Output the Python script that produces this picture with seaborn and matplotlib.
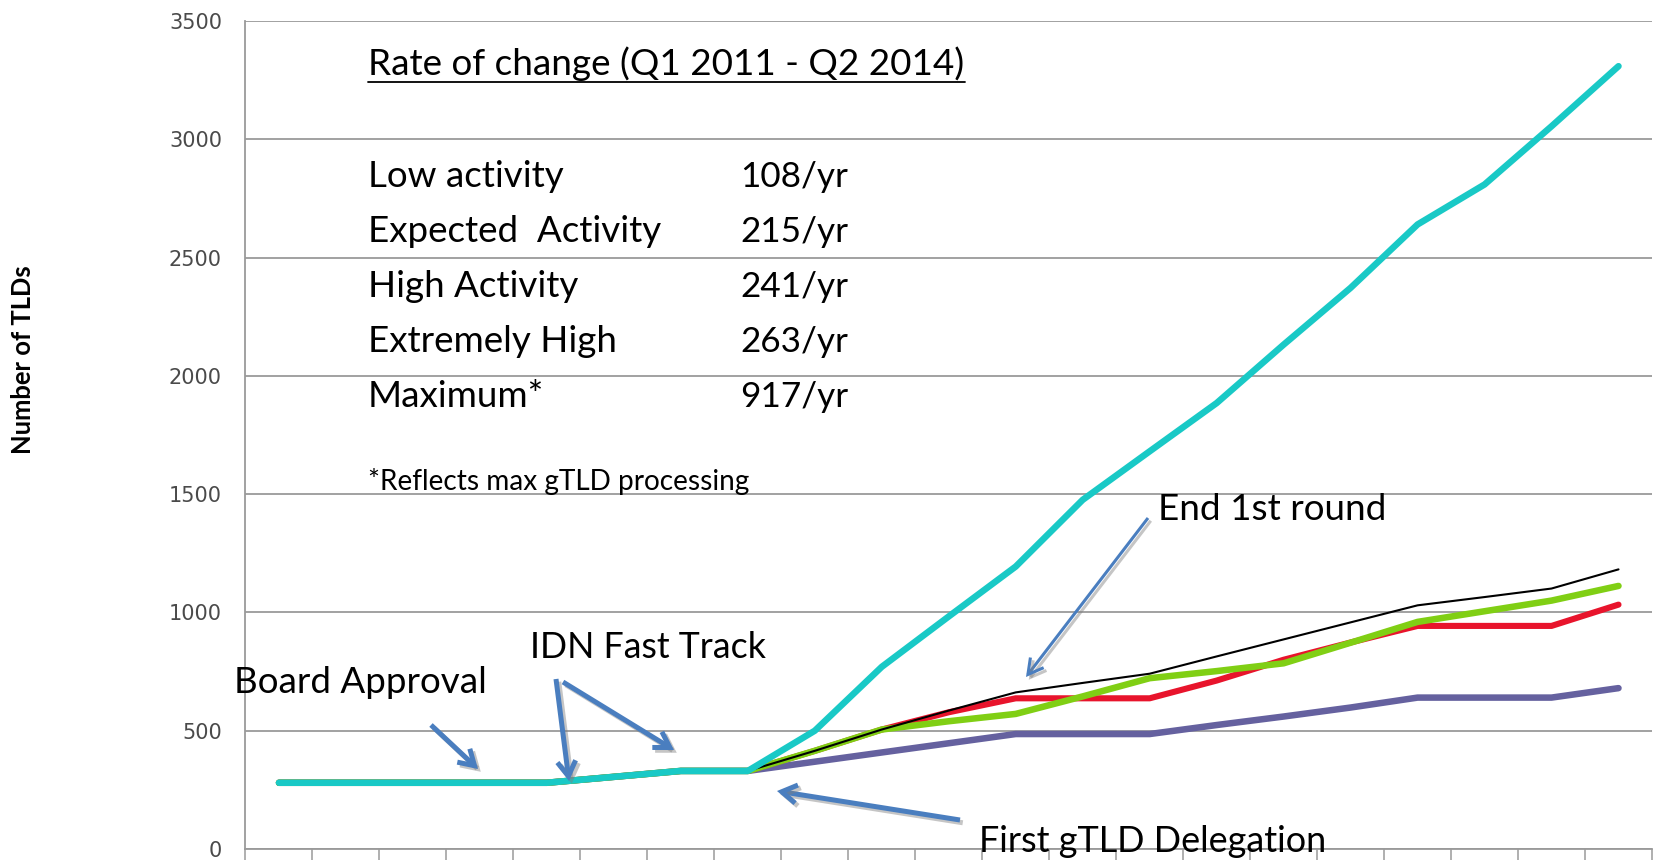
import numpy as np
import pandas as pd
import matplotlib
matplotlib.use("Agg")
import matplotlib.pyplot as plt
import matplotlib.patheffects as pe
from matplotlib.lines import Line2D
import seaborn as sns

# ---------------- data ----------------
quarters = ["Q2 2009", "Q3 2009", "Q4 2009", "Q1 2010", "Q2 2010", "Q3 2010", "Q4 2010",
            "Q1 2011", "Q2 2011", "Q3 2011", "Q4 2011", "Q1 2012", "Q2 2012", "Q3 2012",
            "Q4 2012", "Q1 2013", "Q2 2013", "Q3 2013", "Q4 2013", "Q1 2014", "Q2 2014"]

low_activity = [280, 280, 280, 280, 280, 305, 330, 330, 369, 408, 447, 486, 486, 486,
                524, 560, 598, 640, 640, 640, 680]
expected_activity = [280, 280, 280, 280, 280, 305, 330, 330, 415, 505, 578, 637, 637, 637,
                     712, 800, 873, 943, 943, 943, 1033]
high_activity = [280, 280, 280, 280, 280, 305, 330, 330, 415, 505, 540, 571, 645, 722,
                 752, 785, 872, 960, 1005, 1050, 1112]
extremely_high = [280, 280, 280, 280, 280, 305, 330, 330, 415, 505, 585, 662, 702, 741,
                  814, 886, 958, 1030, 1065, 1101, 1182]
maximum = [280, 280, 280, 280, 280, 305, 330, 330, 500, 770, 983, 1194, 1476, 1681,
           1885, 2132, 2372, 2640, 2809, 3055, 3309]

series_names = ["Low activity", "Expected Activity", "High Activity", "Extremely High", "Maximum*"]
series_values = [low_activity, expected_activity, high_activity, extremely_high, maximum]
series_colors = ["#65619F", "#E8142C", "#80CF14", "#000000", "#19C9C6"]
series_widths = [4.7, 4.4, 4.7, 1.5, 4.7]

rate_labels = ["Low activity", "Expected  Activity", "High Activity", "Extremely High", "Maximum*"]
rate_values = ["108/yr", "215/yr", "241/yr", "263/yr", "917/yr"]
yticks = [0, 500, 1000, 1500, 2000, 2500, 3000, 3500]

# ---------------- figure ----------------
W, H = 1659, 860
sns.set_theme(style="white")
plt.rcParams["font.family"] = ["Lato", "DejaVu Sans"]

fig = plt.figure(figsize=(W / 100, H / 100), dpi=100)
ax = fig.add_axes([245.5 / W, 11 / H, (1652 - 245.5) / W, (849 - 21) / H])

x = np.arange(len(quarters))
for i, (name, vals) in enumerate(zip(series_names, series_values)):
    df = pd.DataFrame({"quarter": x, "TLDs": vals})
    sns.lineplot(data=df, x="quarter", y="TLDs", ax=ax, color=series_colors[i],
                 linewidth=series_widths[i], zorder=3 + i, solid_capstyle="round",
                 solid_joinstyle="round", legend=False)

ax.set_xlim(-0.5, len(quarters) - 0.5)
ax.set_ylim(0, 3500)
ax.set_yticks(yticks)
ax.set_yticklabels([str(v) for v in yticks], family="DejaVu Sans", fontsize=15,
                   color="#4a4a4a")
ax.set_xticks(np.arange(len(quarters) + 1) - 0.5)
ax.set_xticklabels([])
ax.tick_params(axis="y", length=0, pad=17)
ax.tick_params(axis="x", direction="out", length=8, width=1.1, color="#9a9a9a",
               bottom=True)
ax.set_xlabel("")
ax.set_ylabel("")
ax.grid(axis="y", color="#9a9a9a", linewidth=1.3)
ax.grid(axis="x", visible=False)
for s in ["top", "right"]:
    ax.spines[s].set_visible(False)
for s in ["left", "bottom"]:
    ax.spines[s].set_color("#9a9a9a")
    ax.spines[s].set_linewidth(1.3)

fig.canvas.draw()
renderer = fig.canvas.get_renderer()


def fit_size(s, width, **kw):
    t = fig.text(0, 0, s, fontsize=20, **kw)
    w = t.get_window_extent(renderer).width
    t.remove()
    return 20 * width / w


def put(s, xpx, ybase, size, **kw):
    return fig.text(xpx / W, 1 - ybase / H, s, ha="left", va="baseline", fontsize=size,
                    zorder=20, color="black", **kw)


# Rate of change box
put("Rate of change (Q1 2011 - Q2 2014)", 368, 75,
    fit_size("Rate of change (Q1 2011 - Q2 2014)", 597))
fig.add_artist(Line2D([368 / W, 965 / W], [1 - 81.5 / H, 1 - 81.5 / H],
                      color="black", linewidth=1.3))
row_base = [186.7, 241.7, 296.7, 351.7, 406.7]
row_width = [196, 284.5, 209, 249, 185]
lab_size = float(np.median([fit_size(l, w) for l, w in zip(rate_labels, row_width)]))
val_size = fit_size("108/yr", 108)
for lab, val, yb in zip(rate_labels, rate_values, row_base):
    put(lab, 368, yb, lab_size)
    put(val, 740, yb, val_size)
put("*Reflects max gTLD processing", 368, 490, fit_size("*Reflects max gTLD processing", 382))

# Annotation labels
put("Board Approval", 234, 693, fit_size("Board Approval", 253))
put("IDN Fast Track", 530, 658, fit_size("IDN Fast Track", 236))
put("End 1st round", 1158, 520, fit_size("End 1st round", 229))
put("First gTLD Delegation", 979, 852, fit_size("First gTLD Delegation", 348))

# y label
t = fig.text(23 / W, 1 - 360 / H, "Number of TLDs", rotation=90, ha="center", va="center",
             fontsize=12, fontweight="bold", color="black")
bb = t.get_window_extent(renderer)
t.set_fontsize(12 * 189 / bb.height)

# Arrows (figure pixel coordinates, origin bottom-left)
arrow_blue = "#4A7EBF"
shadow = [pe.SimpleLineShadow(offset=(2, -2), shadow_color="#7f7f7f", alpha=0.45),
          pe.Normal()]


def arrow(tail, head, lw=3.6, hl=0.9, hw=0.55):
    a = ax.annotate("", xy=(head[0], H - head[1]), xycoords="figure pixels",
                    xytext=(tail[0], H - tail[1]), textcoords="figure pixels",
                    arrowprops=dict(arrowstyle=f"->,head_length={hl},head_width={hw}",
                                    color=arrow_blue, lw=lw, shrinkA=0, shrinkB=0,
                                    joinstyle="miter", capstyle="butt"),
                    annotation_clip=False, zorder=15)
    a.arrow_patch.set_path_effects(shadow)
    return a


arrow((431, 725), (478, 769))
arrow((556, 679), (569, 781))
arrow((563, 682), (674, 750))
arrow((960, 820), (777, 791))
arrow((1148, 518), (1026, 677), lw=2.2, hl=0.9, hw=0.5)

fig.savefig("out.png", dpi=100)
